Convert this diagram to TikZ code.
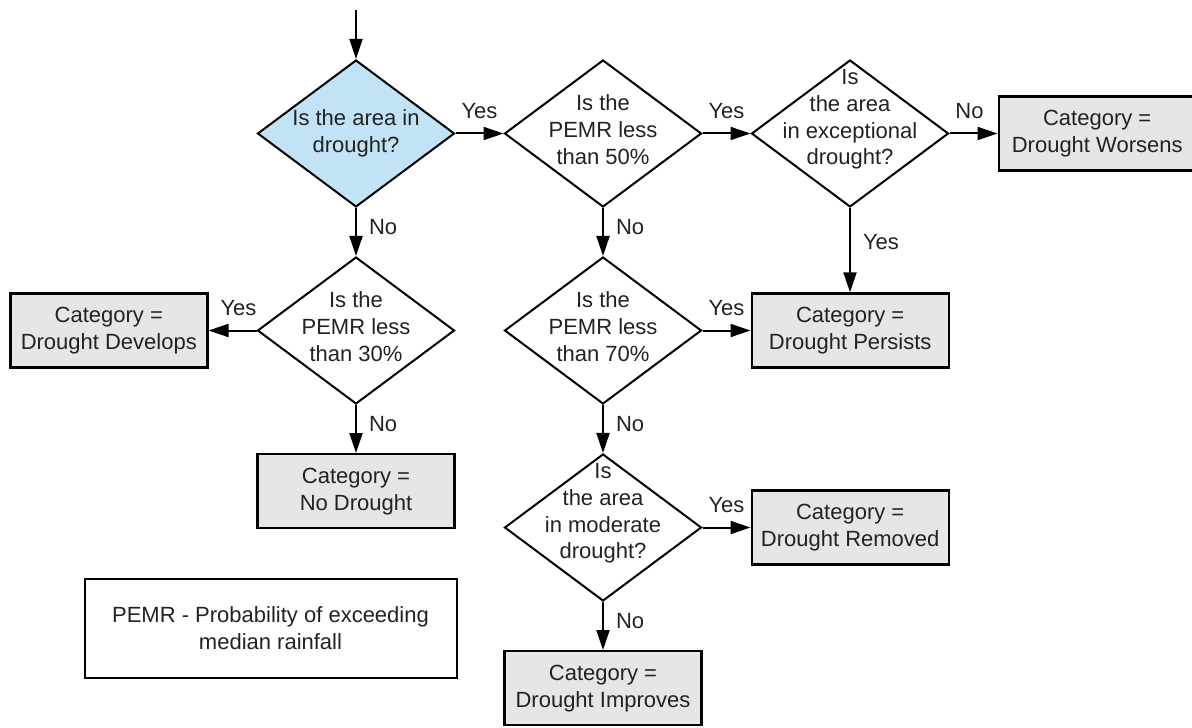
\documentclass[tikz,border=0pt]{standalone}
\usepackage{fontspec}
\setmainfont{Liberation Sans}
\usepackage{tikz}
\usetikzlibrary{shapes.geometric,positioning,arrows.meta}
\definecolor{droughtblue}{HTML}{C2E2F5}
\definecolor{catgrey}{HTML}{E6E6E6}
\definecolor{inkgrey}{HTML}{222222}

\begin{document}
\begin{tikzpicture}[x=0.5pt, y=-0.5pt, node distance=24pt,
    font=\fontsize{11}{13.4}\selectfont,
    decision/.style={diamond, draw, line width=1pt, minimum width=98.5pt, minimum height=73.5pt, inner sep=0pt},
    question/.style={align=center, text=inkgrey, inner sep=0pt},
    outcome/.style={draw, line width=1.2pt, fill=catgrey, minimum width=98.5pt, minimum height=37pt, align=center, text=inkgrey},
    note/.style={draw, line width=1pt, minimum width=186pt, minimum height=49.5pt, align=center, text=inkgrey},
    flow/.style={-{Triangle[length=10pt,width=6.5pt]}, line width=1pt},
    ans/.style={text=inkgrey, inner sep=3pt}]
    \useasboundingbox (0,0) rectangle (1192,727);
    % questions
    \node (drought) [decision, fill=droughtblue, label={[question]center:Is the area in\\drought?}] at (356,133.5) {};
    \node (pemr50) [decision, right=of drought, label={[question, yshift=2pt]center:Is the\\PEMR less\\than 50\%}] {};
    \node (exceptional) [decision, right=of pemr50, label={[question, yshift=7pt]center:Is\\the area\\in exceptional\\drought?}] {};
    \node (pemr30) [decision, below=of drought, label={[question, yshift=2pt]center:Is the\\PEMR less\\than 30\%}] {};
    \node (pemr70) [decision, below=of pemr50, label={[question, yshift=2pt]center:Is the\\PEMR less\\than 70\%}] {};
    \node (moderate) [decision, below=of pemr70, label={[question, yshift=7pt]center:Is\\the area\\in moderate\\drought?}] {};
    % categories
    \node (worsens) [outcome, right=of exceptional] {Category =\\Drought Worsens};
    \node (develops) [outcome, left=of pemr30] {Category =\\Drought Develops};
    \node (nodrought) [outcome, below=of pemr30] {Category =\\No Drought};
    \node (persists) [outcome, right=of pemr70] {Category =\\Drought Persists};
    \node (removed) [outcome, right=of moderate] {Category =\\Drought Removed};
    \node (improves) [outcome, below=of moderate] {Category =\\Drought Improves};
    \node (legend) [note] at (270.5,628.5) {PEMR - Probability of exceeding\\median rainfall};
    % arrows
    \coordinate (entry) at (356,10);
    \draw[flow] (entry) -- (drought);
    \draw[flow] (drought) -- node[ans, above=4pt] {Yes} (pemr50);
    \draw[flow] (pemr50) -- node[ans, above=4pt] {Yes} (exceptional);
    \draw[flow] (exceptional) -- node[ans, above=4pt, xshift=-2pt] {No} (worsens);
    \draw[flow] (exceptional) -- node[ans, right=3pt, pos=0.4] {Yes} (exceptional |- persists.north);
    \draw[flow] (drought) -- node[ans, right=3pt, pos=0.4] {No} (pemr30);
    \draw[flow] (pemr30) -- node[ans, above=4pt, xshift=3pt] {Yes} (develops);
    \draw[flow] (pemr30) -- node[ans, right=3pt, pos=0.4] {No} (nodrought);
    \draw[flow] (pemr50) -- node[ans, right=3pt, pos=0.4] {No} (pemr70);
    \draw[flow] (pemr70) -- node[ans, above=4pt] {Yes} (persists);
    \draw[flow] (pemr70) -- node[ans, right=3pt, pos=0.4] {No} (moderate);
    \draw[flow] (moderate) -- node[ans, above=4pt] {Yes} (removed);
    \draw[flow] (moderate) -- node[ans, right=3pt, pos=0.4] {No} (improves);
\end{tikzpicture}
\end{document}
